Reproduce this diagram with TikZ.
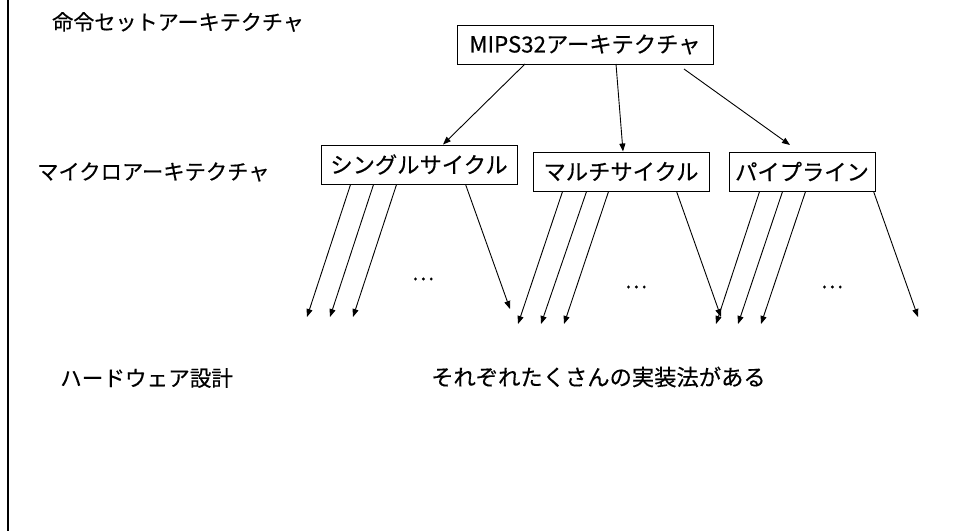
\documentclass[tikz,border=0pt]{standalone}
\usepackage{fontspec}
\setmainfont{Noto Sans CJK JP}[FakeBold=0.4]
\usetikzlibrary{arrows.meta}
\begin{document}
\begin{tikzpicture}[x=1pt,y=-1pt,
  lbl/.style={font=\fontsize{#1}{24}\selectfont, inner sep=0pt},
  box/.style={draw, line width=0.9pt, minimum height=39pt, inner sep=0pt, font=\fontsize{22.3}{26}\selectfont},
  arr/.style={line width=0.9pt, -{Triangle[length=8pt,width=6pt]}},
  dots/.style={font=\fontsize{21}{24}\selectfont, inner sep=0pt}]
\useasboundingbox (0,0) rectangle (961,531);
\draw[line width=2pt] (8,0) -- (8,531);
% labels
\node[lbl=21.1, anchor=west] (isa) at (52,22) {命令セットアーキテクチャ};
\node[lbl=21.3, anchor=west] (uarch) at (37,172) {マイクロアーキテクチャ};
\node[lbl=21.6, anchor=west] (hw) at (60,378) {ハードウェア設計};
\node[lbl=22.3, anchor=west] (impl) at (431,377) {それぞれたくさんの実装法がある};
% boxes
\node[box, minimum width=256pt] (mips) at (585,44.5) {MIPS32アーキテクチャ};
\node[box, minimum width=196pt] (single) at (419,164.5) {シングルサイクル};
\node[box, minimum width=176pt] (multi) at (621,171.5) {マルチサイクル};
\node[box, minimum width=146pt] (pipe) at (802,171.5) {パイプライン};
% arrows from MIPS
\coordinate (m1) at (525,64);
\coordinate (m2) at (616,64);
\coordinate (m3) at (684,69);
\draw[arr] (m1) -- (single.north -| 443,0);
\draw[arr] (m2) -- (multi.north -| 623,0);
\draw[arr] (m3) -- (790,145) coordinate (p3);
% free ends
\coordinate (s1) at (307,317); \coordinate (s2) at (330,317); \coordinate (s3) at (353,317); \coordinate (s4) at (510,309);
\coordinate (u1) at (518,324); \coordinate (u2) at (541,324); \coordinate (u3) at (564,324); \coordinate (u4) at (721,317);
\coordinate (q1) at (716,324); \coordinate (q2) at (738,324); \coordinate (q3) at (761,324); \coordinate (q4) at (918,317);
\draw[arr] ([xshift=30pt]single.south west) -- (s1);
\draw[arr] ([xshift=53pt]single.south west) -- (s2);
\draw[arr] ([xshift=76pt]single.south west) -- (s3);
\draw[arr] ([xshift=145pt]single.south west) -- (s4);
\draw[arr] ([xshift=30pt]multi.south west) -- (u1);
\draw[arr] ([xshift=54pt]multi.south west) -- (u2);
\draw[arr] ([xshift=76pt]multi.south west) -- (u3);
\draw[arr] ([xshift=144pt]multi.south west) -- (u4);
\draw[arr] ([xshift=31pt]pipe.south west) -- (q1);
\draw[arr] ([xshift=54pt]pipe.south west) -- (q2);
\draw[arr] ([xshift=77pt]pipe.south west) -- (q3);
\draw[arr] ([xshift=145pt]pipe.south west) -- (q4);
% dots
\node[dots] (d1) at (423,279) {…};
\node[dots] (d2) at (636,287) {…};
\node[dots] (d3) at (832,287) {…};
\end{tikzpicture}
\end{document}
